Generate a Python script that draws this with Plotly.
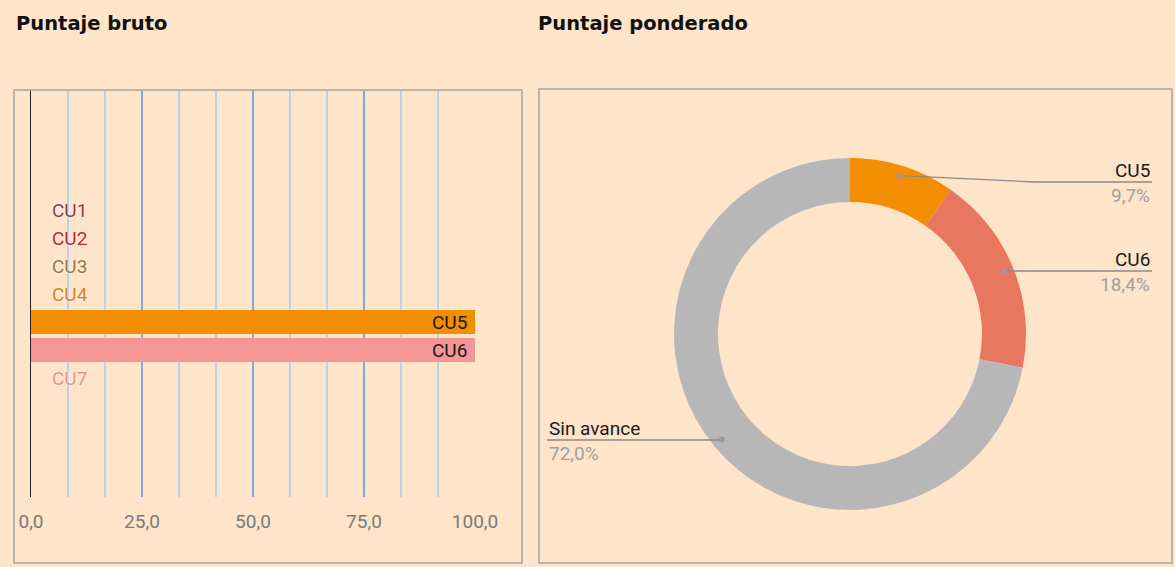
import math
import plotly.graph_objects as go

# ========================= DATA =========================
bar_categories = ["CU1", "CU2", "CU3", "CU4", "CU5", "CU6", "CU7"]
bar_values = [0, 0, 0, 0, 100, 100, 0]
bar_colors = ["#8E3B46", "#C4202F", "#A0773F", "#D3811F", "#F28E00", "#F59595", "#F4898B"]

x_tickvals = [0, 25, 50, 75, 100]

pie_labels = ["CU5", "CU6", "Sin avance"]
pie_values = [9.7, 18.4, 72.0]
pie_colors = ["#F28E00", "#E8775F", "#B7B7B7"]
# =========================================================

W, H = 1175, 567
BG = "#FEE4C9"
FONT = "Roboto"


def px(x):
    return x / W


def py(y):
    return 1 - y / H


fig = go.Figure()

# ---------- left: horizontal bars ----------
fig.add_trace(go.Bar(
    x=bar_values,
    y=bar_categories,
    orientation="h",
    marker=dict(color=bar_colors, line_width=0),
    showlegend=False,
    hoverinfo="x+y",
))

annotations = []
for cat, val, col in zip(bar_categories, bar_values, bar_colors):
    if val > 0:
        annotations.append(dict(
            x=val, y=cat, xref="x", yref="y", text=cat, showarrow=False,
            xanchor="right", xshift=-6,
            font=dict(family=FONT, size=19, color="#1a1a1a"),
        ))
    else:
        annotations.append(dict(
            x=val, y=cat, xref="x", yref="y", text=cat, showarrow=False,
            xanchor="left", xshift=19,
            font=dict(family=FONT, size=19, color=col,
                      shadow="0px 0px 3px white"),
        ))

n = len(bar_categories)
span = (497 - 91) / 28.0
mid = (n - 1) / 2
fig.update_layout(
    xaxis=dict(
        domain=[px(31), px(475)],
        range=[0, 100],
        tickvals=x_tickvals,
        tickformat=".1f",
        showgrid=True,
        gridcolor="#7FA9D8",
        gridwidth=2,
        minor=dict(dtick=25 / 3, showgrid=True, gridcolor="#B9D2EC", gridwidth=1.6),
        zeroline=False,
        ticks="",
        ticklabelstandoff=11,
        tickfont=dict(family=FONT, size=19, color="#7A7A7A"),
        automargin=False,
        fixedrange=True,
    ),
    yaxis=dict(
        domain=[py(497), py(91)],
        range=[mid + span / 2, mid - span / 2],
        showticklabels=False,
        showgrid=False,
        zeroline=False,
        showline=True,
        linecolor="#222222",
        linewidth=1,
        automargin=False,
        fixedrange=True,
    ),
    bargap=4 / 28,
)

# ---------- right: donut ----------
cx, cy, R = 850, 334, 176
fig.add_trace(go.Pie(
    labels=pie_labels,
    values=pie_values,
    marker=dict(colors=pie_colors, line=dict(width=0)),
    hole=0.75,
    sort=False,
    direction="clockwise",
    rotation=0,
    textinfo="none",
    showlegend=False,
    domain=dict(x=[px(cx - R), px(cx + R)], y=[py(cy + R), py(cy - R)]),
))

# leader lines and labels
label_layout = {
    "CU5": ("right", 182),
    "CU6": ("right", 271),
    "Sin avance": ("left", 440),
}
shapes = []
total = sum(pie_values)
cum = 0.0
r_dot = 166
for lab, val in zip(pie_labels, pie_values):
    ang = (cum + val / 2) / total * 2 * math.pi
    cum += val
    dx = cx + r_dot * math.sin(ang)
    dy = cy - r_dot * math.cos(ang)
    side, ly = label_layout[lab]
    pct = f"{val:.1f}%".replace(".", ",")
    if side == "right":
        elbow_x = 1035 if abs(ly - dy) > 2 else dx
        end_x = 1152
        anchor = "right"
    else:
        elbow_x = dx
        end_x = 547
        anchor = "left"
    path = f"M {px(dx)} {py(dy)} L {px(elbow_x)} {py(ly)} L {px(end_x)} {py(ly)}"
    shapes.append(dict(type="path", xref="paper", yref="paper", path=path,
                       line=dict(color="#8A8A8A", width=1.3)))
    shapes.append(dict(type="circle", xref="paper", yref="paper",
                       x0=px(dx - 3), x1=px(dx + 3), y0=py(dy + 3), y1=py(dy - 3),
                       fillcolor="#9A9A9A", line_width=0))
    annotations.append(dict(x=px(end_x), y=py(ly - 12), xref="paper", yref="paper",
                            text=lab, showarrow=False, xanchor=anchor, yanchor="middle",
                            font=dict(family=FONT, size=19, color="#1a1a1a")))
    annotations.append(dict(x=px(end_x), y=py(ly + 13), xref="paper", yref="paper",
                            text=pct, showarrow=False, xanchor=anchor, yanchor="middle",
                            font=dict(family=FONT, size=19, color="#A0A0A0")))

# panel boxes
shapes.append(dict(type="rect", xref="paper", yref="paper",
                   x0=px(14), x1=px(522), y0=py(563), y1=py(90),
                   line=dict(color="#A5A5A5", width=1.5), layer="below"))
shapes.append(dict(type="rect", xref="paper", yref="paper",
                   x0=px(539), x1=px(1172), y0=py(563), y1=py(89),
                   line=dict(color="#A5A5A5", width=1.5), layer="below"))

# panel titles
for title, tx in [("Puntaje bruto", 14), ("Puntaje ponderado", 536)]:
    annotations.append(dict(x=px(tx), y=py(23), xref="paper", yref="paper",
                            text=f"<b>{title}</b>", showarrow=False,
                            xanchor="left", yanchor="middle",
                            font=dict(family="DejaVu Sans", size=19.5, color="#111111")))

fig.update_layout(
    width=W,
    height=H,
    autosize=False,
    margin=dict(l=0, r=0, t=0, b=0, pad=0),
    paper_bgcolor=BG,
    plot_bgcolor=BG,
    separators=",.",
    shapes=shapes,
    annotations=annotations,
)

fig.write_html(
    "out.html",
    config=dict(displayModeBar=False),
    post_script="document.body.style.margin='0';document.body.style.overflow='hidden';",
)
